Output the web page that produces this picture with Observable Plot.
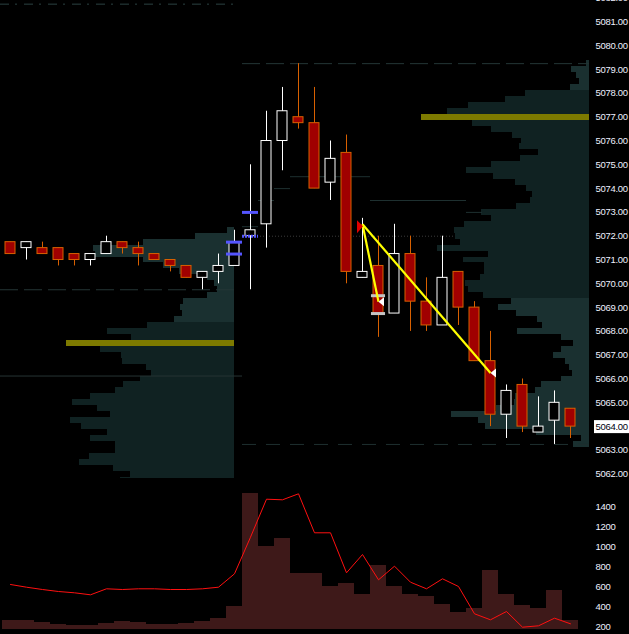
<!DOCTYPE html>
<html><head><meta charset="utf-8">
<script src="https://cdn.jsdelivr.net/npm/d3@7"></script>
<script src="https://cdn.jsdelivr.net/npm/@observablehq/plot@0.6"></script>
<style>
html,body{margin:0;padding:0;background:#000;}
#chart svg{display:block;}
#chart text{letter-spacing:-0.3px;}
</style></head><body><div id="chart"></div>
<script>
// ---- candles (one per bar, sequential) ----
const opens  = [5071.75,5071.50,5071.50,5071.50,5071.25,5071.00,5071.25,5071.75,5071.50,5071.25,5071.00,5070.75,5070.25,5070.50,5070.75,5072.00,5072.50,5076.00,5077.00,5076.75,5074.25,5075.50,5070.25,5070.75,5068.75,5071.25,5069.25,5068.25,5070.50,5069.00,5066.75,5064.50,5065.75,5063.75,5064.25,5064.75];
const highs  = [5071.75,5071.75,5071.75,5071.50,5071.25,5071.25,5072.00,5071.75,5071.75,5071.25,5071.00,5070.75,5070.50,5071.25,5072.25,5075.00,5077.25,5078.25,5079.25,5078.25,5076.00,5076.25,5072.75,5072.00,5072.50,5072.00,5070.25,5072.00,5070.50,5069.25,5068.00,5065.75,5066.00,5065.25,5065.50,5064.75];
const lows   = [5071.25,5071.00,5071.25,5070.75,5070.75,5070.75,5071.25,5071.25,5070.75,5071.00,5070.50,5070.25,5069.75,5070.00,5070.75,5069.75,5071.50,5074.75,5076.50,5074.00,5073.50,5070.00,5070.25,5067.75,5068.75,5068.00,5068.00,5068.25,5068.25,5066.75,5064.00,5063.50,5063.75,5063.75,5063.25,5063.50];
const closes = [5071.25,5071.75,5071.25,5071.00,5071.00,5071.25,5071.75,5071.50,5071.25,5071.00,5070.75,5070.25,5070.50,5070.75,5071.75,5072.25,5076.00,5077.25,5076.75,5074.00,5075.25,5070.50,5070.50,5068.75,5071.25,5069.25,5068.25,5070.25,5069.00,5066.75,5064.50,5065.50,5064.00,5064.00,5065.00,5064.00];
const volumes   = [260,260,245,220,210,210,230,250,240,220,220,230,250,283,400,1533,1000,1080,730,730,600,630,520,810,600,520,500,420,340,380,760,520,410,380,560,260];
const volumeAvg = [620,593,570,550,537,517,577,570,577,577,570,570,577,593,727,1093,1473,1467,1527,1137,1137,737,920,667,803,643,577,677,600,327,267,350,193,207,283,227];

// ---- tick labels ----
const priceTicks  = [5062,5063,5064,5065,5066,5067,5068,5069,5070,5071,5072,5073,5074,5075,5076,5077,5078,5079,5080,5081,5082];
const volumeTicks = [200,400,600,800,1000,1200,1400];

// ---- volume profiles (volume at each 0.25 price level, from top) ----
const leftProfileTop = 5072.25;
const leftProfileVol = [7,39,91,141,139,91,71,55,27,20,17,27,51,54,52,60,87,127,103,168,134,113,112,88,83,94,111,119,144,162,137,124,164,153,127,144,119,119,145,155,121,104,114];
const leftProfileVA  = [5068.25, 5061.75];
const leftProfilePOC = 5067.5;
const leftProfileAnchor = 14;          // candle index where the profile is anchored
const rightProfileTop = 5079.25;
const rightProfileVol = [3,18,13,10,19,64,84,121,142,168,117,98,77,68,70,51,69,98,123,96,74,63,57,59,73,108,98,125,135,134,129,152,101,126,105,105,109,124,121,106,78,91,73,52,47,72,28,16,28,36,24,20,17,28,48,54,74,75,93,138,111,104,53,8,16];
const rightProfileVA  = [5078.0, 5069.5];
const rightProfilePOC = 5077.0;

// ---- level lines (price, from candle, to candle, kind) ----
const levelPrices = [5081.75, 5069.75, 5066.125, 5079.25, 5063.25];
const levelFrom   = [-0.625, -0.625, -0.625, 14.5, 14.5];
const levelTo     = [14.2, 14.2, 14.5, 36.1875, 36.1875];
const levelKinds  = ["dashdot", "dash", "solid", "dash", "dash2"];

// developing line (per candle)
const devIdx  = [15,16,17,18,19,20,21,22,23,24,25,26,27,28,29];
const devVals = [5072.4,5073.5,5074.0,5074.5,5074.5,5074.5,5074.5,5074.5,5073.5,5073.5,5073.5,5073.5,5073.5,5073.5,5073.0];
const dottedLevel = {price: 5072.0, from: 14.5, to: 27.75};

// order markers
const blueIdx = [14, 14, 15];
const bluePx  = [5071.75, 5071.25, 5073.0];
const blueDottedIdx = [15];
const blueDottedPx  = [5072.0];
const greyIdx = [23, 23];
const greyPx  = [5069.5, 5068.75];

// drawn trend lines
const trendStart = [22, 5072.5];
const trendEndIdx = [23, 30];
const trendEndPx  = [5069.25, 5066.25];

// ---- derived tables ----
const candles = opens.map((o, i) => ({i, open: o, high: highs[i], low: lows[i], close: closes[i], up: closes[i] >= o}));
const volRows = volumes.map((v, i) => ({i, vol: v, avg: volumeAvg[i]}));
function profileRows(top, vols, va, poc, anchor) {
  const max = d3.max(vols);
  return vols.map((v, k) => {
    const price = top - k * 0.25;
    return {price, vol: v, max, anchor,
      kind: price === poc ? "poc" : (price <= va[0] && price >= va[1] ? "va" : "out")};
  });
}
const X0 = -0.625, X1 = 36.1875;
const profiles = [
  ...profileRows(leftProfileTop, leftProfileVol, leftProfileVA, leftProfilePOC, leftProfileAnchor),
  ...profileRows(rightProfileTop, rightProfileVol, rightProfileVA, rightProfilePOC, X1)
];
const PROFILE_W = 10.5; // candles for the largest row
const levels = levelPrices.map((p, k) => ({price: p, from: levelFrom[k], to: levelTo[k], kind: levelKinds[k]}));
const dev = devIdx.map((i, k) => ({i, price: devVals[k]}));
const blue = blueIdx.map((i, k) => ({i, price: bluePx[k]}));
const blueDot = blueDottedIdx.map((i, k) => ({i, price: blueDottedPx[k]}));
const grey = greyIdx.map((i, k) => ({i, price: greyPx[k]}));
const trends = trendEndIdx.map((i, k) => ({x1: trendStart[0], y1: trendStart[1], x2: i, y2: trendEndPx[k]}));

const leftTri  = {draw(c) { c.moveTo(0, 0); c.lineTo(5.5, -4.5); c.lineTo(5.5, 4.5); c.closePath(); }};
const rightTri = {draw(c) { c.moveTo(0.5, 2); c.lineTo(-5.5, -4); c.lineTo(-5.5, 9); c.closePath(); }};

const lastClose = closes[closes.length - 1];
const FONT = "Liberation Sans";
const LABEL = "#eef0ff";

// draws a white box behind the last-price label (the group is already shifted by dx)
function boxed(index, scales, values, dims, context, next) {
  const g = next(index, scales, values, dims, context);
  const x0 = dims.width - dims.marginRight - 1.5;
  for (const i of index) {
    const y = values.y[i];
    const r = document.createElementNS("http://www.w3.org/2000/svg", "rect");
    r.setAttribute("x", x0); r.setAttribute("y", y - 6.5);
    r.setAttribute("width", 35); r.setAttribute("height", 13);
    r.setAttribute("fill", "#ffffff");
    g.insertBefore(r, g.firstChild);
  }
  return g;
}

const style = {background: "#000", color: LABEL, fontFamily: FONT, fontSize: "9.5px"};

const price = Plot.plot({
  width: 629, height: 478,
  marginLeft: 0, marginRight: 40, marginTop: 0, marginBottom: 0,
  style,
  x: {domain: [X0, X1], axis: null},
  y: {domain: [5061.8197, 5081.9034], axis: null},
  marks: [
    Plot.rect(profiles, {
      x1: d => d.anchor - d.vol / d.max * PROFILE_W, x2: "anchor",
      y1: d => d.price - 0.125, y2: d => d.price + 0.125,
      fill: d => d.kind === "poc" ? "#7d7a00" : d.kind === "va" ? "#102222" : "#1a3030",
      shapeRendering: "crispEdges"
    }),
    Plot.ruleY(levels.filter(d => d.kind === "dashdot"), {y: "price", x1: "from", x2: "to", stroke: "#2a4242", strokeDasharray: "9,6,2,7"}),
    Plot.ruleY(levels.filter(d => d.kind === "dash"), {y: "price", x1: "from", x2: "to", stroke: "#243636", strokeDasharray: "18,6"}),
    Plot.ruleY(levels.filter(d => d.kind === "dash2"), {y: "price", x1: "from", x2: "to", stroke: "#1e2e2e", strokeDasharray: "14,10"}),
    Plot.ruleY(levels.filter(d => d.kind === "solid"), {y: "price", x1: "from", x2: "to", stroke: "#263434"}),
    Plot.ruleY(dev, {y: "price", x1: d => d.i - 0.5, x2: d => d.i + 0.5, stroke: "#1e3030"}),
    Plot.ruleY([dottedLevel], {y: "price", x1: "from", x2: "to", stroke: "#3a3a3a", strokeDasharray: "1,2"}),
    Plot.ruleX(candles, {x: "i", y1: "low", y2: "high", stroke: d => d.up ? "#ffffff" : "#d86000"}),
    Plot.rect(candles, {
      x1: d => d.i - 0.3125, x2: d => d.i + 0.3125, y1: "open", y2: "close",
      fill: d => d.up ? "#000000" : "#a00000", stroke: d => d.up ? "#ffffff" : "#d86000"
    }),
    Plot.ruleY(blue, {y: "price", x1: d => d.i - 0.5, x2: d => d.i + 0.5, stroke: "#5555ff", strokeWidth: 3}),
    Plot.ruleY(blueDot, {y: "price", x1: d => d.i - 0.5, x2: d => d.i + 0.5, stroke: "#5555ff", strokeWidth: 3, strokeDasharray: "2,1"}),
    Plot.ruleY(grey, {y: "price", x1: d => d.i - 0.44, x2: d => d.i + 0.44, stroke: "#c4c4c4", strokeWidth: 3}),
    Plot.link(trends, {x1: "x1", y1: "y1", x2: "x2", y2: "y2", stroke: "#ffff00", strokeWidth: 2.2}),
    Plot.dot([trendStart], {x: d => d[0], y: d => d[1], symbol: rightTri, fill: "#e00000", stroke: null}),
    Plot.dot(trends, {x: "x2", y: "y2", symbol: leftTri, fill: "#ffffff", stroke: null}),
    Plot.axisY(priceTicks, {anchor: "right", tickSize: 0, tickPadding: 6, tickFormat: d => d.toFixed(2), fill: LABEL, fontSize: 9.5}),
    Plot.text([lastClose], {y: d => d, frameAnchor: "right", dx: 6, textAnchor: "start", text: d => d.toFixed(2), fill: "#000010", fontSize: 9.5, render: boxed})
  ]
});

const vol = Plot.plot({
  width: 629, height: 156,
  marginLeft: 0, marginRight: 40, marginTop: 0, marginBottom: 5,
  style,
  x: {domain: [X0, X1], axis: null},
  y: {domain: [170, 1680], axis: null},
  marks: [
    Plot.rect(volRows, {x1: d => d.i - 0.5, x2: d => d.i + 0.5, y1: 170, y2: "vol", fill: "#3e1919", shapeRendering: "crispEdges"}),
    Plot.line(volRows, {x: "i", y: "avg", stroke: "#ff1010", strokeWidth: 1}),
    Plot.axisY(volumeTicks, {anchor: "right", tickSize: 0, tickPadding: 6, tickFormat: d => String(d), fill: LABEL, fontSize: 9.5})
  ]
});

const root = document.getElementById("chart");
root.append(price, vol);
</script>
</body></html>
